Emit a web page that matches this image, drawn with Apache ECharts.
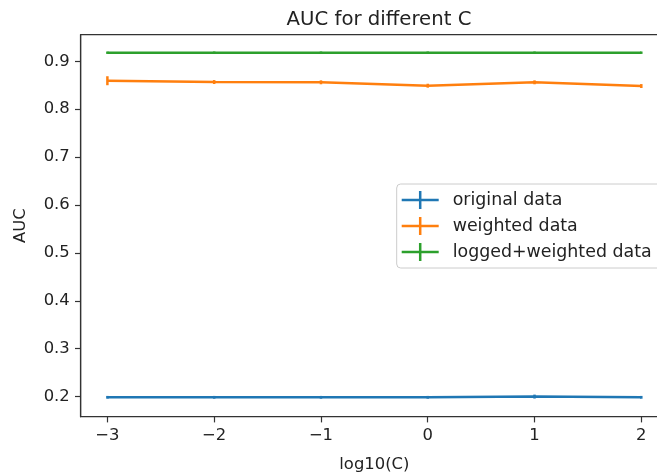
<!DOCTYPE html>
<html>
<head>
<meta charset="utf-8">
<script src="https://cdn.jsdelivr.net/npm/echarts@6/dist/echarts.min.js"></script>
<style>
  html, body { margin: 0; padding: 0; background: #fff; }
  #chart { width: 657px; height: 473px; }
</style>
</head>
<body>
<div id="chart"></div>
<script>
// log10 of the regularisation strength C
const logC = [-3, -2, -1, 0, 1, 2];

// mean AUC per C and its spread (error bar half-height)
const originalAUC = [0.1985, 0.1985, 0.1985, 0.1985, 0.2000, 0.1985];
const originalErr = [0.0008, 0.0008, 0.0008, 0.0008, 0.0020, 0.0008];
const weightedAUC = [0.8595, 0.8568, 0.8562, 0.8491, 0.8562, 0.8484];
const weightedErr = [0.0073, 0.0020, 0.0020, 0.0020, 0.0020, 0.0020];
const loggedAUC = [0.918, 0.918, 0.918, 0.918, 0.918, 0.918];
const loggedErr = [0.0004, 0.0004, 0.0004, 0.0004, 0.0004, 0.0004];

const seriesNames = ['original data', 'weighted data', 'logged+weighted data'];
const xTicks = [-3, -2, -1, 0, 1, 2];
const yTicks = [0.2, 0.3, 0.4, 0.5, 0.6, 0.7, 0.8, 0.9];

const colors = ['#1f77b4', '#ff7f0e', '#2ca02c'];
const font = 'DejaVu Sans';
const textColor = '#222';
const axisColor = '#333';

// "+" shaped legend handle: horizontal line crossed by a vertical error bar
const handleIcon = 'path://M0,7.75H37V10.25H0Z M17.25,0H19.75V18H17.25Z';

function lineSeries(name, values, color) {
  return {
    type: 'line',
    name: name,
    data: logC.map((x, i) => [x, values[i]]),
    showSymbol: false,
    symbol: 'none',
    color: color,
    lineStyle: { color: color, width: 2.5 },
    z: 2,
    animation: false
  };
}

function errorSeries(name, values, errs, color) {
  return {
    type: 'custom',
    name: name + ' error',
    data: logC.map((x, i) => [x, values[i] - errs[i], values[i] + errs[i]]),
    renderItem: function (params, api) {
      const lo = api.coord([api.value(0), api.value(1)]);
      const hi = api.coord([api.value(0), api.value(2)]);
      return {
        type: 'line',
        shape: { x1: lo[0], y1: lo[1] + 1, x2: hi[0], y2: hi[1] - 1 },
        style: { stroke: color, lineWidth: 2.5 }
      };
    },
    z: 3,
    silent: true,
    animation: false
  };
}

const chart = echarts.init(document.getElementById('chart'), null, { renderer: 'canvas' });

chart.setOption({
  animation: false,
  backgroundColor: '#fff',
  title: {
    text: 'AUC for different C',
    left: 374,
    textAlign: 'center',
    top: 5,
    textStyle: { fontFamily: font, fontSize: 19.7, fontWeight: 'normal', color: textColor }
  },
  // the plot frame runs past the right edge of the canvas
  grid: {
    left: 80.7,
    top: 34.7,
    width: 587.3,
    height: 382,
    outerBoundsMode: 'none',
    containLabel: false,
    show: true,
    borderColor: axisColor,
    borderWidth: 1.2,
    backgroundColor: 'transparent'
  },
  legend: {
    orient: 'vertical',
    left: 396.7,
    top: 184,
    padding: [7, 10, 7, 5],
    itemGap: 8,
    itemWidth: 37,
    itemHeight: 18,
    backgroundColor: 'rgba(255,255,255,0.8)',
    borderColor: '#ccc',
    borderWidth: 1,
    borderRadius: 4,
    textStyle: { fontFamily: font, fontSize: 17.4, color: textColor, padding: [0, 0, 0, 9] },
    data: seriesNames.map(n => ({ name: n, icon: handleIcon }))
  },
  xAxis: {
    type: 'value',
    min: -3.25,
    max: 2.25,
    name: 'log10(C)',
    nameLocation: 'middle',
    nameGap: 40,
    nameTextStyle: { fontFamily: font, fontSize: 16.4, color: textColor },
    splitLine: { show: false },
    axisLine: { show: true, onZero: false, lineStyle: { color: axisColor, width: 1.2 } },
    axisTick: { show: true, inside: false, length: 5.7, customValues: xTicks, lineStyle: { color: axisColor, width: 1.2 } },
    axisLabel: {
      margin: 11,
      fontFamily: font, fontSize: 16.4, color: textColor,
      customValues: xTicks,
      formatter: v => (v < 0 ? '\u2212' + Math.abs(v) : String(v))
    }
  },
  yAxis: {
    type: 'value',
    min: 0.158,
    max: 0.9556,
    name: 'AUC',
    nameLocation: 'middle',
    nameGap: 52,
    nameRotate: 90,
    nameTextStyle: { fontFamily: font, fontSize: 16.4, color: textColor },
    splitLine: { show: false },
    axisLine: { show: true, onZero: false, lineStyle: { color: axisColor, width: 1.2 } },
    axisTick: { show: true, inside: false, length: 5.7, customValues: yTicks, lineStyle: { color: axisColor, width: 1.2 } },
    axisLabel: {
      margin: 11,
      fontFamily: font, fontSize: 16.4, color: textColor,
      customValues: yTicks,
      formatter: v => Number(v).toFixed(1)
    }
  },
  series: [
    lineSeries(seriesNames[0], originalAUC, colors[0]),
    lineSeries(seriesNames[1], weightedAUC, colors[1]),
    lineSeries(seriesNames[2], loggedAUC, colors[2]),
    errorSeries(seriesNames[0], originalAUC, originalErr, colors[0]),
    errorSeries(seriesNames[1], weightedAUC, weightedErr, colors[1]),
    errorSeries(seriesNames[2], loggedAUC, loggedErr, colors[2])
  ]
});
</script>
</body>
</html>
